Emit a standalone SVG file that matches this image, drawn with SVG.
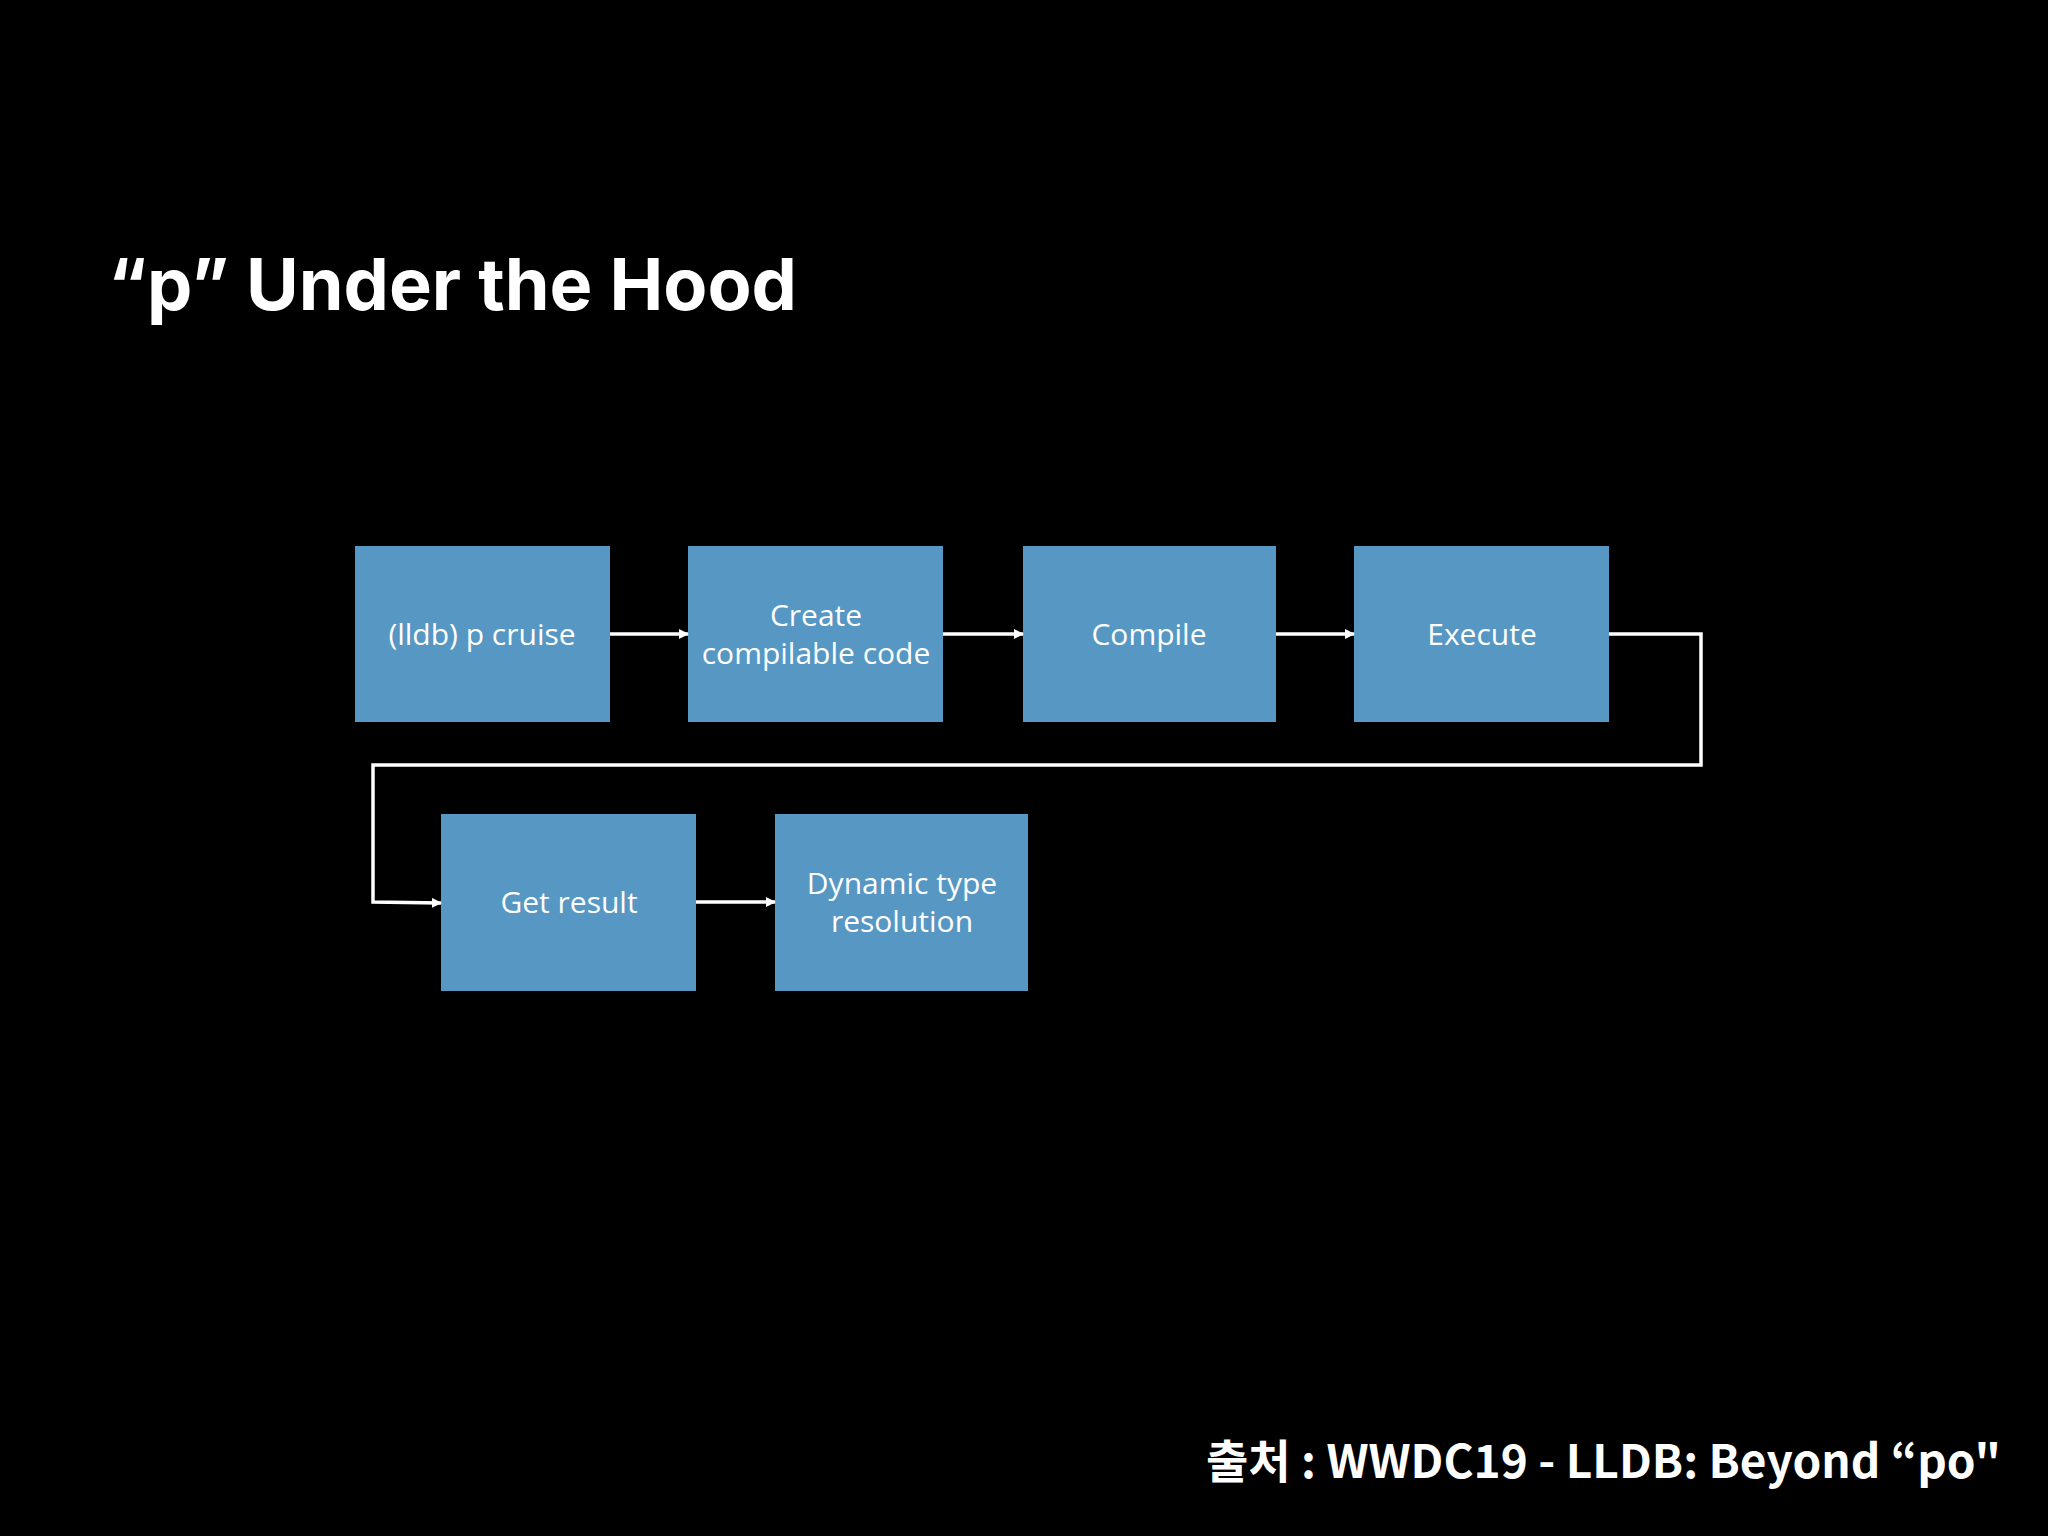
<svg xmlns="http://www.w3.org/2000/svg" width="2048" height="1536" viewBox="0 0 2048 1536">
<style>
.b{fill:#5697c3}
.t{fill:#fff;font-family:"Open Sans","Liberation Sans",sans-serif;font-size:30px;text-anchor:middle}
.c{stroke:#fff;stroke-width:3.5;fill:none;marker-end:url(#a)}
</style>
<defs><marker id="a" markerWidth="10" markerHeight="10" refX="9" refY="5" orient="auto" markerUnits="userSpaceOnUse"><path d="M0,0 L10,5 L0,10 z" fill="#fff"/></marker></defs>
<rect width="2048" height="1536" fill="#000"/>
<text x="108" y="310" fill="#fff" font-family="Inter,'Liberation Sans',sans-serif" font-weight="bold" font-size="72">“p” Under the Hood</text>
<g id="n1"><rect class="b" x="355" y="546" width="255" height="176"/><text class="t" x="482" y="645">(lldb) p cruise</text></g>
<g id="n2"><rect class="b" x="688" y="546" width="255" height="176"/><text class="t" x="816" y="626">Create</text><text class="t" x="816" y="664">compilable code</text></g>
<g id="n3"><rect class="b" x="1023" y="546" width="253" height="176"/><text class="t" x="1149" y="645">Compile</text></g>
<g id="n4"><rect class="b" x="1354" y="546" width="255" height="176"/><text class="t" x="1482" y="645">Execute</text></g>
<g id="n5"><rect class="b" x="441" y="814" width="255" height="177"/><text class="t" x="569" y="913">Get result</text></g>
<g id="n6"><rect class="b" x="775" y="814" width="253" height="177"/><text class="t" x="902" y="894">Dynamic type</text><text class="t" x="902" y="932">resolution</text></g>
<g id="connectors">
<path class="c" d="M610,634 H688"/>
<path class="c" d="M943,634 H1023"/>
<path class="c" d="M1276,634 H1354"/>
<path class="c" d="M1609,634 H1701 V765 H373 V902 L441,903"/>
<path class="c" d="M696,902 H775"/>
</g>
<text x="2001" y="1478" fill="#fff" text-anchor="end" font-family="'Noto Sans CJK KR',sans-serif" font-weight="bold" font-size="46">출처 : WWDC19 - LLDB: Beyond “po"</text>
</svg>
